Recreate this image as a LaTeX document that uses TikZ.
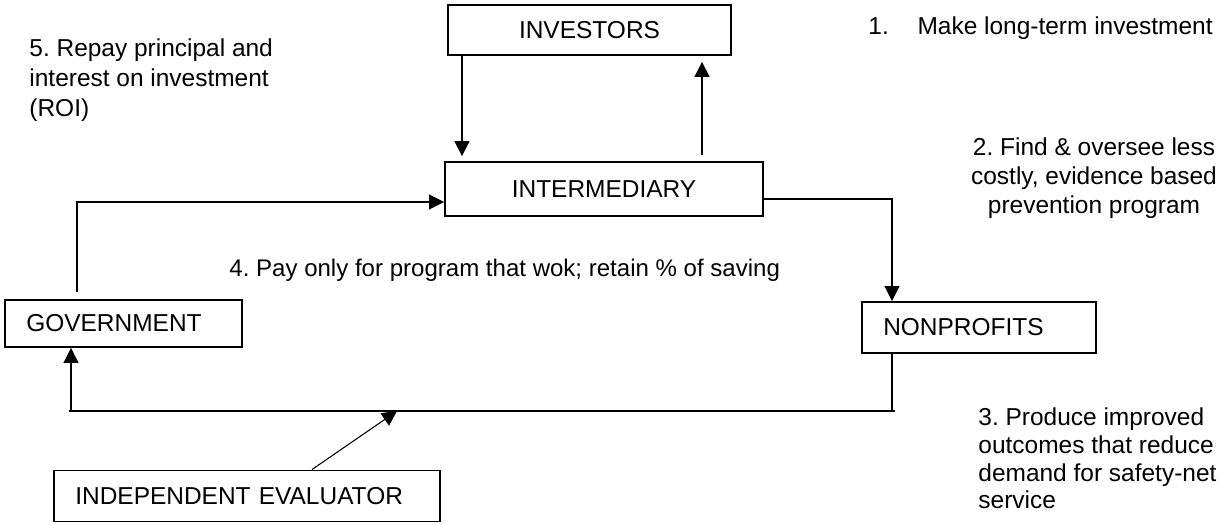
\documentclass[tikz,border=0pt]{standalone}
\usepackage{fontspec}
\setmainfont{Liberation Sans}
\usetikzlibrary{arrows.meta,calc}
\frenchspacing

\tikzset{
  box/.style={draw, line width=0.9pt, inner xsep=10pt, inner ysep=0pt,
    font=\fontsize{11.5}{14}\selectfont},
  note/.style={inner sep=0pt, font=\fontsize{11.5}{14}\selectfont},
  arr/.style={-{Triangle[length=7pt,width=7pt]}, line width=0.5pt},
}

\begin{document}
\begin{tikzpicture}[x=0.47pt,y=-0.47pt]
      \useasboundingbox (0,0) rectangle (1218,524);

      % the five parties
      \node[box, minimum width=133pt, minimum height=23.5pt] (inv) at (589.5,30) {INVESTORS};
      \node[box, minimum width=149.5pt, minimum height=25.4pt] (mid) at (604,189) {INTERMEDIARY};
      \node[box, text width=91.4pt, align=left, minimum height=22.1pt] (gov) at (123.5,323.5) {GOVERNMENT};
      \node[box, text width=90pt, align=left, minimum height=24pt] (non) at (979,327.5) {NONPROFITS};
      \node[box, text width=161.4pt, align=left, minimum height=24pt] (eval) at (247,496) {INDEPENDENT EVALUATOR};

      % steps
      \node[note, anchor=west] (s1) at (868,28) {1.\hspace{13.5pt}Make long-term investment};
      \node[note, align=center, font=\fontsize{11.5}{13.5}\selectfont] (s2) at (1094,178)
        {2. Find \& oversee less\\costly, evidence based\\prevention program};
      \node[note, anchor=west, align=left, font=\fontsize{11.5}{13}\selectfont] (s3) at (978,458.5)
        {3. Produce improved\\outcomes that reduce\\demand for safety-net\\service};
      \node[note, anchor=west, font=\fontsize{11.3}{14}\selectfont] (s4) at (229,270)
        {4. Pay only for program that wok; retain \% of saving};
      \node[note, anchor=west, align=left] (s5) at (29,80)
        {5. Repay principal and\\interest on investment\\(ROI)};

      % x positions of the connectors
      \coordinate (dn) at (462,0);
      \coordinate (up) at (702,0);
      \coordinate (gx) at (77,0);
      \coordinate (gl) at (71,0);
      \coordinate (nx) at (892,0);
      \coordinate (base) at (0,411);
      \coordinate (lend) at (69,411);
      \coordinate (rend) at (895,411);
      \coordinate (hit) at (397,411);
      \coordinate (ex) at (312,0);

      \draw[arr, shorten >=2.3pt] (inv.south -| dn) -- (mid.north -| dn);
      \draw[arr, shorten <=2.8pt, shorten >=2.8pt] (mid.north -| up) -- (inv.south -| up);
      \draw[arr, shorten <=3.3pt] (gov.north -| gx) |- ($(mid.west)+(0,13)$);
      \draw[arr] ($(mid.east)+(-1,10)$) -| (non.north -| nx);
      \draw[line width=0.5pt] (non.south -| nx) -- (nx |- base);
      \draw[line width=0.5pt] (rend) -- (lend);
      \draw[arr] (gl |- base) -- (gov.south -| gl);
      \draw[arr] (eval.north -| ex) -- (hit);
    \end{tikzpicture}
\end{document}
